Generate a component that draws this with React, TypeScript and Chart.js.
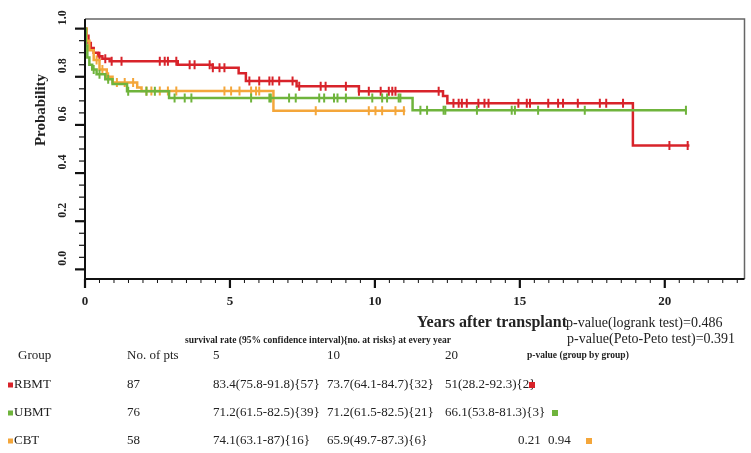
import React, { useEffect, useRef } from "react";
import { Chart, registerables } from "chart.js";
Chart.register(...registerables);

const groups = ["RBMT", "UBMT", "CBT"];
const colors = ["#d8232a", "#6fb43c", "#f4a63a"];

const rbmtTimes = [0, 0.05, 0.12, 0.2, 0.3, 0.45, 0.6, 0.85, 3.2, 4.4, 5.3, 5.55, 7.3, 9.45, 12.35, 12.5, 18.9, 20.85];
const rbmtSurv = [1, 0.97, 0.94, 0.92, 0.9, 0.885, 0.875, 0.865, 0.85, 0.838, 0.815, 0.782, 0.761, 0.74, 0.72, 0.69, 0.515, 0.515];
const rbmtCensor = [0.5, 0.7, 0.92, 1.26, 2.58, 2.75, 2.86, 3.15, 3.61, 3.78, 4.3, 4.41, 4.64, 4.81, 5.67, 6.01, 6.36, 6.47, 6.7, 7.16, 7.39, 8.13, 8.3, 9.0, 9.45, 9.79, 10.2, 10.48, 10.6, 10.71, 12.2, 12.71, 12.89, 13.0, 13.17, 13.57, 13.78, 13.92, 14.95, 15.24, 15.35, 15.98, 16.32, 16.49, 17.0, 17.76, 17.98, 18.56, 20.16, 20.79];

const ubmtTimes = [0, 0.03, 0.08, 0.15, 0.25, 0.4, 0.7, 0.95, 1.45, 2.9, 11.3, 20.75];
const ubmtSurv = [1, 0.93, 0.88, 0.85, 0.83, 0.81, 0.79, 0.77, 0.74, 0.712, 0.661, 0.661];
const ubmtCensor = [0.3, 0.5, 0.8, 1.49, 2.12, 2.41, 3.09, 3.44, 3.67, 5.73, 6.36, 6.41, 7.04, 7.27, 8.08, 8.25, 8.59, 8.71, 9.0, 9.91, 10.25, 10.42, 10.82, 10.88, 11.57, 11.8, 12.37, 12.43, 13.52, 14.72, 14.83, 15.63, 17.24, 20.73];

const cbtTimes = [0, 0.05, 0.15, 0.3, 0.5, 0.75, 0.95, 1.8, 1.95, 6.5, 11.05];
const cbtSurv = [1, 0.95, 0.91, 0.87, 0.83, 0.8, 0.776, 0.755, 0.741, 0.659, 0.659];
const cbtCensor = [0.4, 0.6, 0.8, 1.1, 1.37, 1.66, 2.12, 2.29, 2.58, 2.86, 3.15, 4.81, 5.04, 5.33, 5.73, 5.9, 6.01, 7.96, 9.79, 10.02, 10.25, 10.71, 11.0];

const yTickValues = [0, 0.2, 0.4, 0.6, 0.8, 1.0];
const yTickLabels = ["0.0", "0.2", "0.4", "0.6", "0.8", "1.0"];
const xTickValues = [0, 5, 10, 15, 20];
const xTickLabels = ["0", "5", "10", "15", "20"];

const nPts = ["87", "76", "58"];
const yearCols = ["5", "10", "20"];
const rate5 = ["83.4(75.8-91.8){57}", "71.2(61.5-82.5){39}", "74.1(63.1-87){16}"];
const rate10 = ["73.7(64.1-84.7){32}", "71.2(61.5-82.5){21}", "65.9(49.7-87.3){6}"];
const rate20 = ["51(28.2-92.3){2}", "66.1(53.8-81.3){3}", ""];
const pCbt = ["0.21", "0.94"];

const X_MAX = 22.75;
const Y_MIN = -0.04;
const Y_MAX = 1.04;
const SERIF = "'Liberation Serif', 'Times New Roman', serif";

function survAt(times: number[], surv: number[], t: number) {
  let s = surv[0];
  for (let i = 0; i < times.length; i++) if (times[i] <= t) s = surv[i];
  return s;
}

const series = [
  { times: rbmtTimes, surv: rbmtSurv, censor: rbmtCensor },
  { times: ubmtTimes, surv: ubmtSurv, censor: ubmtCensor },
  { times: cbtTimes, surv: cbtSurv, censor: cbtCensor },
];

const decorPlugin = {
  id: "decor",
  afterDraw(chart: any) {
    const ctx = chart.ctx as CanvasRenderingContext2D;
    const xs = chart.scales.x;
    const ys = chart.scales.y;
    const a = chart.chartArea;
    ctx.save();
    ctx.strokeStyle = "#666";
    ctx.lineWidth = 1.5;
    ctx.beginPath();
    ctx.moveTo(a.left, a.top);
    ctx.lineTo(a.right, a.top);
    ctx.lineTo(a.right, a.bottom);
    ctx.stroke();
    ctx.strokeStyle = "#111";
    ctx.lineWidth = 2;
    ctx.beginPath();
    ctx.moveTo(a.left, a.top);
    ctx.lineTo(a.left, a.bottom);
    ctx.lineTo(a.right, a.bottom);
    ctx.stroke();
    for (let k = 0; k <= 20; k++) {
      const v = k * 0.05;
      const py = ys.getPixelForValue(v);
      const major = k % 4 === 0;
      ctx.lineWidth = major ? 2.2 : 1.2;
      ctx.beginPath();
      ctx.moveTo(a.left - (major ? 10 : 6), py);
      ctx.lineTo(a.left, py);
      ctx.stroke();
    }
    for (let k = 0; k <= 45; k++) {
      const t = k * 0.5;
      const px = xs.getPixelForValue(t);
      const major = k % 10 === 0;
      ctx.lineWidth = major ? 2.2 : 1;
      ctx.beginPath();
      ctx.moveTo(px, a.bottom);
      ctx.lineTo(px, a.bottom + (major ? 9 : 4));
      ctx.stroke();
    }
    ctx.fillStyle = "#222";
    ctx.font = `bold 12px ${SERIF}`;
    ctx.textAlign = "center";
    ctx.textBaseline = "middle";
    yTickValues.forEach((v, i) => {
      const py = ys.getPixelForValue(v) - 11;
      ctx.save();
      ctx.translate(63, py);
      ctx.rotate(-Math.PI / 2);
      ctx.fillText(yTickLabels[i], 0, 0);
      ctx.restore();
    });
    ctx.save();
    ctx.font = `bold 15px ${SERIF}`;
    ctx.translate(41, 110);
    ctx.rotate(-Math.PI / 2);
    ctx.fillText("Probability", 0, 0);
    ctx.restore();
    ctx.font = `bold 13px ${SERIF}`;
    xTickValues.forEach((v, i) => {
      ctx.fillText(xTickLabels[i], xs.getPixelForValue(v), 302);
    });
    ctx.font = `bold 16px ${SERIF}`;
    ctx.textAlign = "right";
    ctx.fillText("Years after transplant", 567, 323);
    ctx.textAlign = "left";
    ctx.font = `14px ${SERIF}`;
    ctx.fillText("p-value(logrank test)=0.486", 566, 323);
    ctx.fillText("p-value(Peto-Peto test)=0.391", 567, 339);
    ctx.font = `bold 9.5px ${SERIF}`;
    ctx.fillText("survival rate (95% confidence interval){no. at risks} at every year", 185, 341);
    ctx.fillText("p-value (group by group)", 527, 356);
    ctx.font = `13px ${SERIF}`;
    ctx.fillText("Group", 18, 356);
    ctx.fillText("No. of pts", 127, 356);
    const cols = [213, 327, 445];
    yearCols.forEach((c, i) => ctx.fillText(c, cols[i], 356));
    const rowsY = [385, 413, 441];
    groups.forEach((g, i) => {
      const ry = rowsY[i];
      ctx.fillStyle = colors[i];
      ctx.fillRect(8, ry - 2.5, 5, 5);
      ctx.fillStyle = "#222";
      ctx.fillText(g, 14, ry);
      ctx.fillText(nPts[i], 127, ry);
      ctx.fillText(rate5[i], cols[0], ry);
      ctx.fillText(rate10[i], cols[1], ry);
      if (rate20[i]) ctx.fillText(rate20[i], cols[2], ry);
    });
    ctx.fillText(pCbt[0], 518, rowsY[2]);
    ctx.fillText(pCbt[1], 548, rowsY[2]);
    const sqX = [529, 552, 586];
    sqX.forEach((sx, i) => {
      ctx.fillStyle = colors[i];
      ctx.fillRect(sx, rowsY[i] - 3, 6, 6);
    });
    ctx.restore();
  },
};

export default function App() {
  const ref = useRef<HTMLCanvasElement>(null);
  useEffect(() => {
    if (!ref.current) return;
    const datasets: any[] = [];
    [1, 2, 0].forEach((gi) => {
      const s = series[gi];
      datasets.push({
        type: "line",
        label: groups[gi],
        data: s.times.map((t, i) => ({ x: t, y: s.surv[i] })),
        stepped: true,
        borderColor: colors[gi],
        borderWidth: 2.5,
        pointRadius: 0,
        fill: false,
      });
      datasets.push({
        type: "scatter",
        label: groups[gi] + " censored",
        data: s.censor.map((t) => ({ x: t, y: survAt(s.times, s.surv, t) })),
        pointStyle: "line",
        rotation: 90,
        pointRadius: 4.5,
        borderColor: colors[gi],
        backgroundColor: colors[gi],
        borderWidth: 2,
      });
    });
    const chart = new Chart(ref.current, {
      type: "line",
      data: { datasets },
      options: {
        animation: false,
        responsive: false,
        maintainAspectRatio: false,
        layout: { padding: { left: 85, top: 19, right: 5, bottom: 174 } },
        plugins: { legend: { display: false }, tooltip: { enabled: false } },
        scales: {
          x: { type: "linear", min: 0, max: X_MAX, display: false },
          y: { type: "linear", min: Y_MIN, max: Y_MAX, display: false },
        },
      },
      plugins: [decorPlugin],
    } as any);
    return () => chart.destroy();
  }, []);
  return (
    <div style={{ position: "absolute", left: 0, top: 0, width: 751, height: 453, background: "#fff" }}>
      <canvas ref={ref} width={751} height={453} />
    </div>
  );
}
